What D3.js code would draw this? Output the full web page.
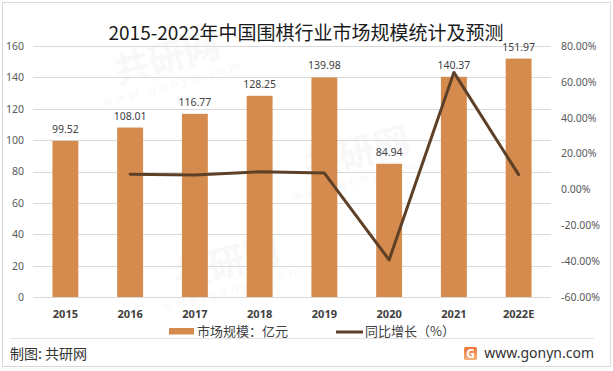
<!DOCTYPE html>
<html>
<head>
<meta charset="utf-8">
<script src="https://cdn.jsdelivr.net/npm/d3@7"></script>
<style>
  html, body { margin: 0; padding: 0; background: #fff; }
  svg { display: block; }
</style>
</head>
<body>
<div id="chart"></div>
<script>
const title = "2015-2022年中国围棋行业市场规模统计及预测";
const categories = ["2015", "2016", "2017", "2018", "2019", "2020", "2021", "2022E"];
const marketSize = [99.52, 108.01, 116.77, 128.25, 139.98, 84.94, 140.37, 151.97];
const growth = [null, 8.53, 8.11, 9.83, 9.15, -39.32, 65.26, 8.26];
const leftTicks = [0, 20, 40, 60, 80, 100, 120, 140, 160];
const rightTicks = [-60, -40, -20, 0, 20, 40, 60, 80];
const legendLabels = ["市场规模：亿元", "同比增长（%）"];
const sourceText = "制图: 共研网";
const siteText = "www.gonyn.com";

const W = 613, H = 371;
const barColor = "#d58b4d", lineColor = "#5e4027", gridColor = "#d9d9d9";
const numFont = "'Noto Sans', 'DejaVu Sans', sans-serif";
const cjkFont = "'Noto Sans CJK SC', 'Noto Sans', sans-serif";

const svg = d3.select("#chart").append("svg").attr("width", W).attr("height", H);

// frame
svg.append("rect").attr("x", 2.5).attr("y", 2.5).attr("width", 608).attr("height", 364)
  .attr("fill", "#fff").attr("stroke", "#d9d9d9").attr("stroke-width", 1);

const plot = { left: 33, right: 551, top: 46, bottom: 297 };
const x = d3.scaleBand().domain(categories).range([plot.left, plot.right])
  .paddingInner(0.6).paddingOuter(0.3);
const y = d3.scaleLinear().domain([0, 160]).range([plot.bottom, plot.top]);
const y2 = d3.scaleLinear().domain([-60, 80]).range([plot.bottom, plot.top]);

// watermarks (faint)
const wm = svg.append("g").attr("pointer-events", "none");
[[170, 70], [360, 165], [230, 275]].forEach(([wx, wy]) => {
  const g = wm.append("g").attr("transform", `translate(${wx},${wy}) rotate(-15)`);
  g.append("text").text("共研网").attr("text-anchor", "middle")
    .attr("font-family", cjkFont).attr("font-weight", "bold").attr("font-size", 36)
    .attr("fill", "#e0e0e0").attr("opacity", 0.22);
  g.append("text").text("www.gonyn.com").attr("y", 18).attr("text-anchor", "middle")
    .attr("font-family", numFont).attr("font-size", 12).attr("letter-spacing", 4)
    .attr("fill", "#e0e0e0").attr("opacity", 0.22);
});

// gridlines
svg.append("g").selectAll("line").data(leftTicks).join("line")
  .attr("x1", plot.left).attr("x2", plot.right)
  .attr("y1", d => Math.round(y(d)) + 0.5).attr("y2", d => Math.round(y(d)) + 0.5)
  .attr("stroke", gridColor).attr("stroke-width", 1);

// left axis
const leftAxis = svg.append("g").attr("transform", `translate(24,0)`)
  .call(d3.axisLeft(y).tickValues(leftTicks).tickSize(0).tickPadding(0));
leftAxis.select(".domain").remove();
leftAxis.selectAll("text").attr("font-family", numFont).attr("font-size", 10.5).attr("fill", "#595959");

// right axis
const rightAxis = svg.append("g").attr("transform", `translate(561,0)`)
  .call(d3.axisRight(y2).tickValues(rightTicks).tickSize(0).tickPadding(0)
    .tickFormat(d => d.toFixed(2) + "%"));
rightAxis.select(".domain").remove();
rightAxis.selectAll("text").attr("font-family", numFont).attr("font-size", 10.5).attr("fill", "#595959");

// bars
svg.append("g").selectAll("rect").data(categories).join("rect")
  .attr("x", d => x(d)).attr("width", x.bandwidth())
  .attr("y", (d, i) => y(marketSize[i])).attr("height", (d, i) => y(0) - y(marketSize[i]))
  .attr("fill", barColor);

// bar labels
svg.append("g").selectAll("text").data(categories).join("text")
  .attr("x", d => x(d) + x.bandwidth() / 2)
  .attr("y", (d, i) => y(marketSize[i]) - 8)
  .attr("text-anchor", "middle")
  .attr("font-family", numFont).attr("font-size", 10.5).attr("fill", "#404040")
  .text((d, i) => marketSize[i].toFixed(2));

// line
const lineData = categories.map((c, i) => ({ c, v: growth[i] })).filter(d => d.v !== null);
svg.append("path").datum(lineData)
  .attr("d", d3.line().x(d => x(d.c) + x.bandwidth() / 2).y(d => y2(d.v)))
  .attr("fill", "none").attr("stroke", lineColor).attr("stroke-width", 3)
  .attr("stroke-linejoin", "round").attr("stroke-linecap", "round");

// x axis labels
const xAxis = svg.append("g").attr("transform", `translate(0,${plot.bottom})`)
  .call(d3.axisBottom(x).tickSize(0).tickPadding(13));
xAxis.select(".domain").remove();
xAxis.selectAll("text").attr("font-family", numFont).attr("font-size", 11)
  .attr("font-weight", "bold").attr("fill", "#404040");

// title
svg.append("text").attr("x", 306).attr("y", 40).attr("text-anchor", "middle")
  .attr("font-family", cjkFont).attr("font-size", 19).attr("fill", "#1a1a1a").text(title);

// legend
const lg = svg.append("g");
lg.append("rect").attr("x", 169).attr("y", 328).attr("width", 25).attr("height", 6.5).attr("fill", barColor);
lg.append("text").attr("x", 197).attr("y", 336).attr("font-family", cjkFont).attr("font-size", 13)
  .attr("fill", "#404040").text(legendLabels[0]);
lg.append("line").attr("x1", 336).attr("x2", 363).attr("y1", 332).attr("y2", 332)
  .attr("stroke", lineColor).attr("stroke-width", 3);
lg.append("text").attr("x", 365).attr("y", 336).attr("font-family", cjkFont).attr("font-size", 13)
  .attr("fill", "#404040").text(legendLabels[1]);

// footer
svg.append("line").attr("x1", 10).attr("x2", 594).attr("y1", 338.5).attr("y2", 338.5)
  .attr("stroke", "#e3e3e3").attr("stroke-width", 1);
svg.append("text").attr("x", 10).attr("y", 359).attr("font-family", cjkFont).attr("font-size", 14)
  .attr("fill", "#333").text(sourceText);

const defs = svg.append("defs");
const grad = defs.append("linearGradient").attr("id", "logoGrad").attr("x1", 0).attr("y1", 0).attr("x2", 0).attr("y2", 1);
grad.append("stop").attr("offset", "0%").attr("stop-color", "#f0743a");
grad.append("stop").attr("offset", "100%").attr("stop-color", "#f7b27a");
svg.append("rect").attr("x", 464).attr("y", 347).attr("width", 13).attr("height", 13).attr("rx", 1.5)
  .attr("fill", "url(#logoGrad)");
svg.append("text").attr("x", 470.5).attr("y", 358).attr("text-anchor", "middle")
  .attr("font-family", numFont).attr("font-weight", "bold").attr("font-size", 12)
  .attr("fill", "#fff").text("G");
svg.append("text").attr("x", 594).attr("y", 358).attr("text-anchor", "end")
  .attr("font-family", numFont).attr("font-size", 14).attr("fill", "#333").text(siteText);
</script>
</body>
</html>
